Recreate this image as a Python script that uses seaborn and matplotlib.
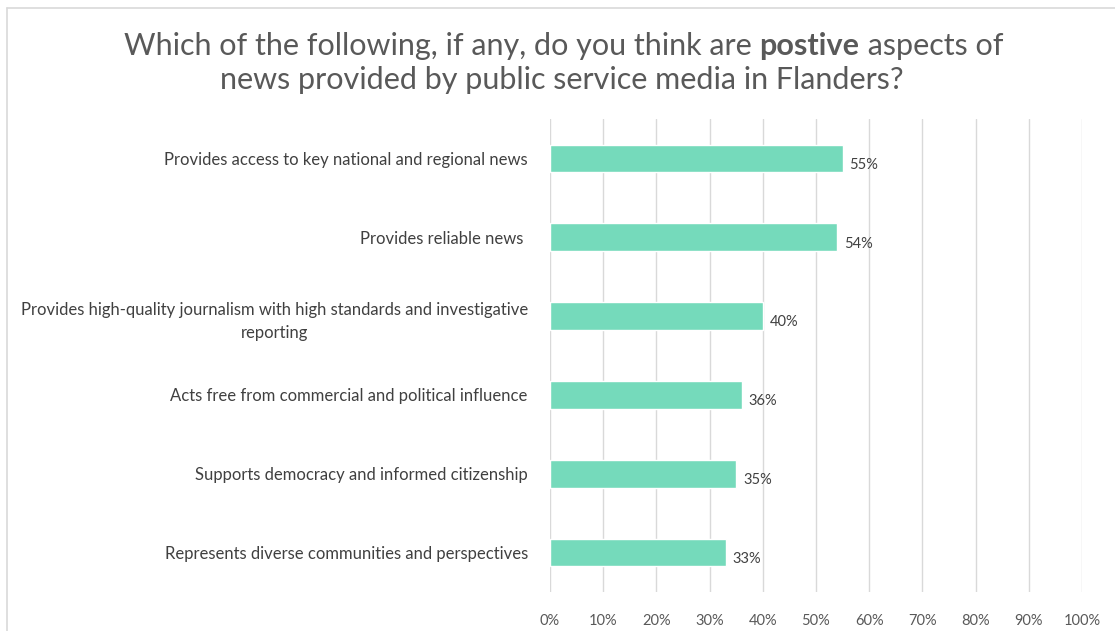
import matplotlib
matplotlib.use("Agg")
import matplotlib.pyplot as plt
import seaborn as sns
import pandas as pd
from matplotlib.lines import Line2D

categories = [
    "Provides access to key national and regional news",
    "Provides reliable news ",
    "Provides high-quality journalism with high standards and investigative\nreporting",
    "Acts free from commercial and political influence",
    "Supports democracy and informed citizenship",
    "Represents diverse communities and perspectives",
]
values = [55, 54, 40, 36, 35, 33]
tick_values = [0, 10, 20, 30, 40, 50, 60, 70, 80, 90, 100]
tick_labels = [f"{v}%" for v in tick_values]
title_parts = [
    ("Which of the following, if any, do you think are ", "normal"),
    ("postive", "bold"),
    (" aspects of", "normal"),
]
title_line2 = "news provided by public service media in Flanders?"

df = pd.DataFrame({"category": categories, "value": values})

sns.set_theme(style="white")
plt.rcParams["font.family"] = ["Lato", "DejaVu Sans"]

W, H = 1115, 631
fig = plt.figure(figsize=(W / 100, H / 100), dpi=100)
ax = fig.add_axes([550 / W, 1 - 592 / H, (1082 - 550) / W, (592 - 119) / H])

bar_color = "#75DABB"
sns.barplot(data=df, x="value", y="category", orient="h", color=bar_color,
            width=0.35, ax=ax, saturation=1)

ax.set_xlim(0, 100)
ax.set_ylim(5.5, -0.5)
ax.set_xticks(tick_values)
ax.set_xticklabels(tick_labels, fontsize=10.5, color="#595959")
ax.tick_params(axis="x", length=0, pad=16)
ax.set_yticks(range(len(categories)))
ax.set_yticklabels(categories, fontsize=12, color="#404040")
for lbl in ax.get_yticklabels():
    lbl.set_multialignment("center")
    lbl.set_linespacing(1.55)
ax.tick_params(axis="y", length=0, pad=16)

ax.set_xlabel("")
ax.set_ylabel("")
for s in ax.spines.values():
    s.set_visible(False)
ax.xaxis.grid(True, color="#D9D9D9", linewidth=1)
ax.set_axisbelow(True)

for i, v in enumerate(values):
    ax.text(v + 1.3, i + 0.08, f"{v}%", va="center", ha="left",
            fontsize=10.5, color="#404040")

# title (mixed weight on line 1)
fig.canvas.draw()
renderer = fig.canvas.get_renderer()
fs = 22
tcol = "#595959"
pieces = []
total = 0
for txt, wt in title_parts:
    t = fig.text(0, 0, txt, fontsize=fs, fontweight=wt, color=tcol, va="center", ha="left")
    w = t.get_window_extent(renderer).width
    pieces.append((t, w))
    total += w
x0 = (W - total) / 2 + 6
y1 = 1 - 46 / H
for t, w in pieces:
    t.set_position((x0 / W, y1))
    x0 += w
fig.text(0.5 + 4 / W, 1 - 80 / H, title_line2, ha="center", va="center", fontsize=fs, color=tcol)

# border
fig.add_artist(Line2D([7 / W, 1.0], [1 - 8 / H, 1 - 8 / H], color="#D9D9D9", linewidth=1.2,
                      transform=fig.transFigure))
fig.add_artist(Line2D([7 / W, 7 / W], [0, 1 - 8 / H], color="#D9D9D9", linewidth=1.2,
                      transform=fig.transFigure))

fig.savefig("out.png", dpi=100, facecolor="white")
